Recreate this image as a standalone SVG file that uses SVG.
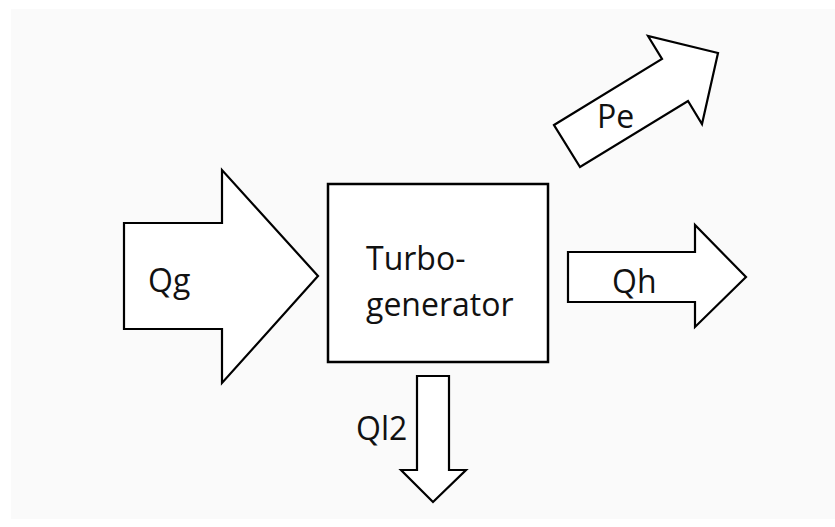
<svg xmlns="http://www.w3.org/2000/svg" width="835" height="527" viewBox="0 0 835 527">
<style>
.shape{fill:#ffffff;stroke:#000000;stroke-width:2.2;stroke-linejoin:miter}
.lbl{font-family:"Open Sans","Liberation Sans",sans-serif;font-size:32px;fill:#111111}
</style>
<rect x="0" y="0" width="835" height="527" fill="#ffffff"/>
<rect x="11" y="9" width="824" height="510" fill="#fafafa"/>
<g id="connectors">
<g id="qg">
<polygon class="shape" points="124,223 222,223 222,170 318,276 222,383 222,329 124,329"/>
<text class="lbl" x="148" y="292">Qg</text>
</g>
<g id="qh">
<polygon class="shape" points="568,252 695,252 695,225 746,277 695,327 695,302 568,302"/>
<text class="lbl" x="612" y="293">Qh</text>
</g>
<g id="ql2">
<polygon class="shape" points="417,376 449,376 449,470 466,470 433,502 401,470 417,470"/>
<text class="lbl" x="356" y="440">Ql2</text>
</g>
<g id="pe">
<polygon class="shape" points="554,125 662,59 648,36 718,53 702,124 688,101 580,167"/>
<text class="lbl" x="597" y="128">Pe</text>
</g>
</g>
<g id="turbogenerator">
<rect x="328" y="184" width="220" height="178" fill="#ffffff" stroke="#000000" stroke-width="2.5"/>
<text class="lbl" x="366" y="270">Turbo-</text>
<text class="lbl" x="366" y="316">generator</text>
</g>
</svg>
